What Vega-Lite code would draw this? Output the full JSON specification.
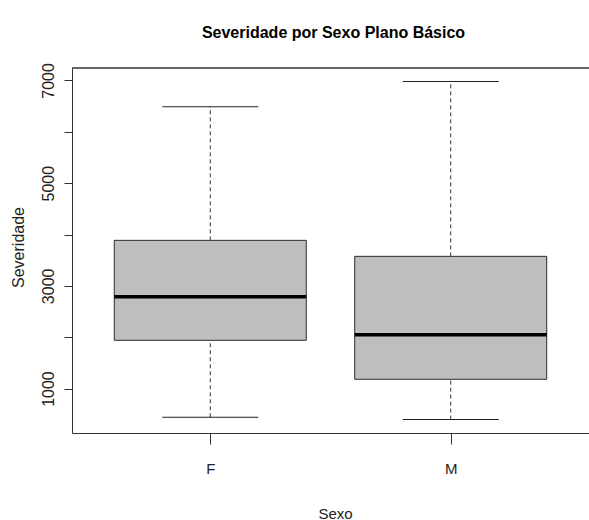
{
  "$schema": "https://vega.github.io/schema/vega-lite/v6.json",
  "autosize": {"type": "none"},
  "padding": {"left": 72, "top": 68, "right": 0, "bottom": 87},
  "width": 517,
  "height": 365,
  "background": "white",
  "title": {
    "text": "Severidade por Sexo Plano Básico",
    "font": "Liberation Sans",
    "fontWeight": "bold",
    "fontSize": 16,
    "color": "#000000",
    "anchor": "middle",
    "baseline": "alphabetic",
    "offset": 9,
    "dx": 3
  },
  "data": {
    "values": [
      {"Sexo": "F", "lower": 441, "q1": 1940, "median": 2790, "q3": 3886, "upper": 6488},
      {"Sexo": "M", "lower": 396, "q1": 1181, "median": 2050, "q3": 3575, "upper": 6980}
    ]
  },
  "config": {
    "view": {"stroke": null},
    "axis": {"grid": false, "domainColor": "#333333", "tickColor": "#333333", "labelColor": "#222222", "titleColor": "#222222", "titleFontWeight": "normal"}
  },
  "layer": [
    {
      "mark": {"type": "rule", "strokeDash": [4, 3], "color": "#333333", "strokeWidth": 1},
      "encoding": {
        "x": {
          "field": "Sexo", "type": "nominal",
          "scale": {"type": "point", "padding": 0.575},
          "axis": {
            "title": "Sexo", "labelAngle": 0,
            "labelFont": "Liberation Sans", "labelFontSize": 15,
            "labelBaseline": "alphabetic", "labelPadding": 29, "tickSize": 11,
            "titleFont": "Liberation Sans", "titleFontSize": 15,
            "titleX": 263, "titleY": 85, "titleBaseline": "alphabetic", "titleAlign": "center"
          }
        },
        "y": {
          "field": "q3", "type": "quantitative",
          "scale": {"domain": [135, 7242], "nice": false, "zero": false},
          "axis": {
            "title": "Severidade",
            "values": [1000, 2000, 3000, 4000, 5000, 6000, 7000],
            "format": "d",
            "labelExpr": "datum.value % 2000 == 1000 ? datum.label : ''",
            "labelAngle": -90, "labelAlign": "center", "labelBaseline": "alphabetic",
            "labelPadding": 11, "tickSize": 8,
            "labelFont": "Liberation Sans", "labelFontSize": 16,
            "titleFont": "Liberation Sans", "titleFontSize": 16,
            "titleAngle": -90, "titleX": -54, "titleY": 179,
            "titleBaseline": "middle", "titleAlign": "center"
          }
        },
        "y2": {"field": "upper"}
      }
    },
    {
      "mark": {"type": "rule", "strokeDash": [4, 3], "color": "#333333", "strokeWidth": 1},
      "encoding": {
        "x": {"field": "Sexo", "type": "nominal", "title": "Sexo"},
        "y": {"field": "lower", "type": "quantitative", "title": "Severidade"},
        "y2": {"field": "q1"}
      }
    },
    {
      "mark": {"type": "bar", "size": 192, "fill": "#BEBEBE", "stroke": "#2b2b2b", "strokeWidth": 1},
      "encoding": {
        "x": {"field": "Sexo", "type": "nominal", "title": "Sexo"},
        "y": {"field": "q1", "type": "quantitative", "title": "Severidade"},
        "y2": {"field": "q3"}
      }
    },
    {
      "mark": {"type": "tick", "size": 192, "thickness": 3.5, "color": "#000000", "opacity": 1},
      "encoding": {
        "x": {"field": "Sexo", "type": "nominal", "title": "Sexo"},
        "y": {"field": "median", "type": "quantitative", "title": "Severidade"}
      }
    },
    {
      "mark": {"type": "tick", "size": 96, "thickness": 1, "color": "#222222", "opacity": 1},
      "encoding": {
        "x": {"field": "Sexo", "type": "nominal", "title": "Sexo"},
        "y": {"field": "upper", "type": "quantitative", "title": "Severidade"}
      }
    },
    {
      "mark": {"type": "tick", "size": 96, "thickness": 1, "color": "#222222", "opacity": 1},
      "encoding": {
        "x": {"field": "Sexo", "type": "nominal", "title": "Sexo"},
        "y": {"field": "lower", "type": "quantitative", "title": "Severidade"}
      }
    },
    {
      "mark": {"type": "rule", "color": "#333333", "strokeWidth": 1},
      "encoding": {
        "y": {"datum": 7242, "type": "quantitative", "title": "Severidade"}
      }
    }
  ]
}
